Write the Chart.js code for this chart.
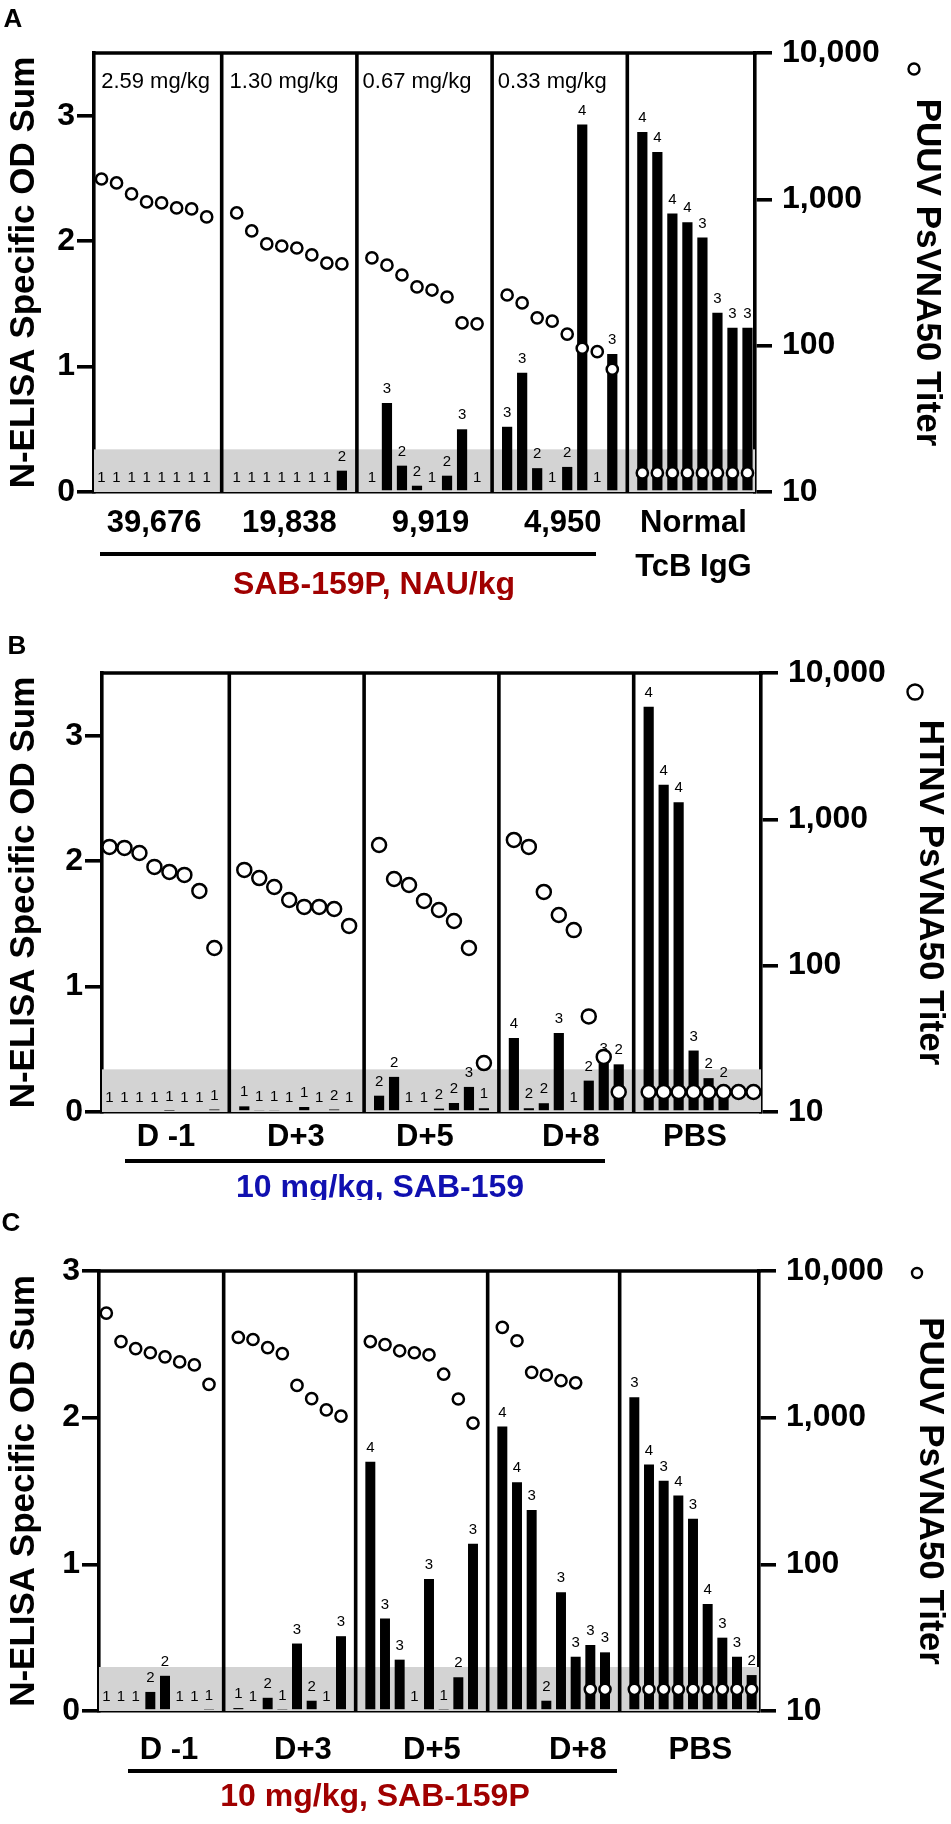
<!DOCTYPE html>
<html>
<head>
<meta charset="utf-8">
<title>N-ELISA OD sums and PsVNA50 titers</title>
<script src="https://cdn.jsdelivr.net/npm/chart.js@4.4.1/dist/chart.umd.min.js"></script>
<style>
  html, body { margin: 0; padding: 0; background: #fff; }
  #fig { width: 951px; height: 1824px; }
  canvas { display: block; }
</style>
</head>
<body>
<div id="fig">
  <canvas id="panelA" width="951" height="600"></canvas>
  <canvas id="panelB" width="951" height="600"></canvas>
  <canvas id="panelC" width="951" height="624"></canvas>
</div>
<script>
// Three panels: bars = N-ELISA specific OD sum (left axis), open circles = PsVNA50 titer (right, log)
// Each inner array is one group of animals; the number over a bar is the score.

// Panel A - SAB-159P dose titration, PUUV
const doseLabelsA = ['2.59 mg/kg', '1.30 mg/kg', '0.67 mg/kg', '0.33 mg/kg'];
const groupLabelsA = ['39,676', '19,838', '9,919', '4,950', ['Normal', 'TcB IgG']];
const odSumA = [
  [0, 0, 0, 0, 0, 0, 0, 0],
  [0, 0, 0, 0, 0, 0, 0, 0.17],
  [0, 0.71, 0.21, 0.05, 0, 0.13, 0.50, 0],
  [0.52, 0.95, 0.19, 0, 0.20, 2.93, 0, 1.10],
  [2.87, 2.71, 2.22, 2.15, 2.03, 1.43, 1.31, 1.31]
];
const scoreA = [
  [1, 1, 1, 1, 1, 1, 1, 1],
  [1, 1, 1, 1, 1, 1, 1, 2],
  [1, 3, 2, 2, 1, 2, 3, 1],
  [3, 3, 2, 1, 2, 4, 1, 3],
  [4, 4, 4, 4, 3, 3, 3, 3]
];
const titerA = [
  [1377, 1294, 1089, 960, 945, 874, 860, 758],
  [807, 608, 496, 480, 465, 417, 367, 362],
  [398, 355, 304, 252, 240, 215, 143, 141],
  [222, 196, 155, 147, 120, 96, 91, 69],
  [13.5, 13.5, 13.5, 13.5, 13.5, 13.5, 13.5, 13.5]
];

// Panel B - 10 mg/kg SAB-159, HTNV
const groupLabelsB = ['D -1', 'D+3', 'D+5', 'D+8', 'PBS'];
const odSumB = [
  [0, 0, 0, 0, 0.01, 0, 0, 0.02],
  [0.045, 0.013, 0.013, 0, 0.04, 0, 0.02, 0],
  [0.13, 0.28, 0, 0, 0.027, 0.072, 0.20, 0.03],
  [0.59, 0.03, 0.07, 0.63, 0, 0.25, 0.39, 0.38],
  [3.23, 2.61, 2.47, 0.49, 0.27, 0.20, null, null]
];
const scoreB = [
  [1, 1, 1, 1, 1, 1, 1, 1],
  [1, 1, 1, 1, 1, 1, 2, 1],
  [2, 2, 1, 1, 2, 2, 3, 1],
  [4, 2, 2, 3, 1, 2, 3, 2],
  [4, 4, 4, 3, 2, 2, null, null]
];
const titerB = [
  [648, 638, 589, 473, 437, 417, 324, 132],
  [451, 397, 345, 281, 252, 252, 244, 187],
  [668, 391, 356, 277, 240, 202, 132, 21.6],
  [723, 648, 319, 222, 175, 45, 23.8, 13.7],
  [13.7, 13.7, 13.7, 13.7, 13.7, 13.7, 13.7, 13.7]
];

// Panel C - 10 mg/kg SAB-159P, PUUV
const groupLabelsC = ['D -1', 'D+3', 'D+5', 'D+8', 'PBS'];
const odSumC = [
  [0, 0, 0, 0.13, 0.24, 0, 0, 0.01],
  [0.02, 0, 0.09, 0.01, 0.46, 0.07, 0, 0.51],
  [1.70, 0.63, 0.35, 0, 0.90, 0.01, 0.23, 1.14],
  [1.94, 1.56, 1.37, 0.07, 0.81, 0.37, 0.45, 0.40],
  [2.14, 1.68, 1.57, 1.47, 1.31, 0.73, 0.50, 0.37, 0.245]
];
const scoreC = [
  [1, 1, 1, 2, 2, 1, 1, 1],
  [1, 1, 2, 1, 3, 2, 1, 3],
  [4, 3, 3, 1, 3, 1, 2, 3],
  [4, 4, 3, 2, 3, 3, 3, 3],
  [3, 4, 3, 4, 3, 4, 3, 3, 2]
];
const titerC = [
  [5164, 3302, 2953, 2770, 2598, 2400, 2288, 1687],
  [3524, 3412, 3001, 2730, 1660, 1347, 1129, 1026],
  [3304, 3148, 2858, 2771, 2684, 1978, 1340, 919],
  [4130, 3344, 2037, 1950, 1786, 1729, 14.06, 14.06],
  [14.06, 14.06, 14.06, 14.06, 14.06, 14.06, 14.06, 14.06, 14.06]
];

const odTicksAB = [0, 1, 2, 3];
const titerTicks = [10, 100, 1000, 10000];

const FONT = '"Liberation Sans", Arial, Helvetica, sans-serif';
Chart.defaults.font.family = FONT;
Chart.defaults.color = '#000';

// groups -> one flat list of slots, with an empty slot between groups for the divider line
function flatten(groups) {
  const out = [];
  groups.forEach((g, gi) => {
    if (gi > 0) out.push(null);
    g.forEach(v => out.push(v));
  });
  return out;
}

function gapSlots(groups) {
  const gaps = [];
  let n = 0;
  groups.forEach((g, gi) => {
    if (gi > 0) { gaps.push(n); n++; }
    n += g.length;
  });
  return gaps;
}

function makePanel(id, p) {
  const canvas = document.getElementById(id);
  const W = canvas.width, H = canvas.height;
  const bars = flatten(p.od);
  const scores = flatten(p.score);
  const titers = flatten(p.titer);
  const gaps = gapSlots(p.od);
  const labels = bars.map((_, i) => String(i));

  const decor = {
    id: 'decor',
    beforeDatasetsDraw(chart) {
      const {ctx, chartArea: a, scales} = chart;
      const yb = scales.y.getPixelForValue(p.cutoff);
      ctx.save();
      ctx.fillStyle = '#d3d3d3';
      ctx.fillRect(a.left, yb, a.right - a.left, a.bottom - yb);
      ctx.strokeStyle = '#000';
      ctx.lineWidth = 3.6;
      gaps.forEach(i => {
        const x = scales.x.getPixelForValue(i);
        ctx.beginPath();
        ctx.moveTo(x, a.top);
        ctx.lineTo(x, a.bottom);
        ctx.stroke();
      });
      ctx.restore();
    },
    afterDatasetDraw(chart, args) {
      if (args.index !== 0) return;
      const ctx = chart.ctx;
      const meta = chart.getDatasetMeta(0);
      ctx.save();
      ctx.font = '15px ' + FONT;
      ctx.fillStyle = '#000';
      ctx.textAlign = 'center';
      ctx.textBaseline = 'middle';
      meta.data.forEach((bar, i) => {
        if (scores[i] == null || bars[i] == null) return;
        ctx.fillText(String(scores[i]), bar.x, bar.y - 14);
      });
      ctx.restore();
    },
    afterDraw(chart) {
      const {ctx, chartArea: a, scales} = chart;
      ctx.save();
      // top frame line
      ctx.strokeStyle = '#000';
      ctx.lineWidth = 3.6;
      ctx.beginPath();
      ctx.moveTo(a.left - 2, a.top);
      ctx.lineTo(a.right + 2, a.top);
      ctx.stroke();

      ctx.fillStyle = '#000';
      ctx.textAlign = 'center';
      ctx.textBaseline = 'middle';

      // panel letter
      ctx.font = 'bold 26px ' + FONT;
      ctx.fillText(p.letter, p.letterX, p.letterY);

      // dose labels inside the boxes (panel A)
      if (p.doses) {
        ctx.font = '22px ' + FONT;
        p.doses.forEach((t, i) => {
          ctx.fillText(t, scales.x.getPixelForValue(p.doseSlots[i]), p.doseY);
        });
      }

      // group labels under the axis
      ctx.font = 'bold 31px ' + FONT;
      p.groups.forEach((t, i) => {
        const x = scales.x.getPixelForValue(p.groupSlots[i]);
        const lines = Array.isArray(t) ? t : [t];
        lines.forEach((ln, k) => ctx.fillText(ln, x, p.groupY + k * 44));
      });

      // bracket line and treatment caption
      ctx.lineWidth = 3.8;
      ctx.beginPath();
      ctx.moveTo(p.underline[0], p.underline[2]);
      ctx.lineTo(p.underline[1], p.underline[2]);
      ctx.stroke();
      ctx.fillStyle = p.captionColor;
      ctx.font = 'bold 32px ' + FONT;
      ctx.fillText(p.caption, p.captionX, p.captionY);

      // open circle key in front of the right axis title
      ctx.beginPath();
      ctx.arc(p.marker[0], p.marker[1], p.marker[2], 0, Math.PI * 2);
      ctx.fillStyle = '#fff';
      ctx.fill();
      ctx.lineWidth = 2.4;
      ctx.strokeStyle = '#000';
      ctx.stroke();
      ctx.restore();
    }
  };

  const tickGrid = {
    display: true, drawOnChartArea: false, drawTicks: true,
    tickLength: 17, lineWidth: 3.6, color: '#000'
  };
  const axisBorder = {display: true, color: '#000', width: 3.6};

  return new Chart(canvas, {
    type: 'bar',
    data: {
      labels: labels,
      datasets: [
        {
          type: 'bar', data: bars, yAxisID: 'y', order: 2,
          backgroundColor: '#000', borderWidth: 0,
          barPercentage: 0.68, categoryPercentage: 1
        },
        {
          type: 'line', data: titers, yAxisID: 'y2', order: 1,
          showLine: false, pointRadius: p.dotRadius, pointBorderWidth: 2.5,
          pointBackgroundColor: '#fff', pointBorderColor: '#000'
        }
      ]
    },
    options: {
      responsive: false,
      animation: false,
      layout: {padding: {top: p.plotTop, left: 0, right: 0, bottom: 0}},
      plugins: {legend: {display: false}, tooltip: {enabled: false}},
      scales: {
        x: {
          type: 'category', offset: true,
          ticks: {display: false},
          grid: {display: false},
          border: axisBorder,
          afterFit(s) { s.height = H - p.plotBottom; }
        },
        y: {
          position: 'left', min: 0, max: p.odMax,
          afterBuildTicks(s) { s.ticks = odTicksAB.map(v => ({value: v})); },
          ticks: {color: '#000', font: {size: 32, weight: 'bold'}, padding: 2},
          grid: tickGrid,
          border: axisBorder,
          title: {
            display: true, text: 'N-ELISA Specific OD Sum', color: '#000',
            font: {size: 35, weight: 'bold'}, padding: {top: p.leftTitlePad, bottom: 0}
          },
          afterFit(s) { s.width = p.plotLeft; }
        },
        y2: {
          type: 'logarithmic', position: 'right', min: 10, max: 10000,
          afterBuildTicks(s) { s.ticks = titerTicks.map(v => ({value: v})); },
          ticks: {
            color: '#000', font: {size: 32, weight: 'bold'}, padding: 10,
            callback: v => Number(v).toLocaleString('en-US')
          },
          grid: tickGrid,
          border: axisBorder,
          title: {
            display: true, text: p.titerTitle, color: '#000',
            font: {size: 35, weight: 'bold'}, padding: {top: p.rightTitlePad, bottom: 0}
          },
          afterFit(s) { s.width = W - p.plotRight; }
        }
      }
    },
    plugins: [decor]
  });
}

makePanel('panelA', {
  od: odSumA, score: scoreA, titer: titerA,
  odMax: 3.5, cutoff: 0.34, dotRadius: 5.6,
  plotLeft: 94, plotRight: 755, plotTop: 53, plotBottom: 492,
  leftTitlePad: 3, rightTitlePad: 3,
  titerTitle: 'PUUV PsVNA50 Titer',
  letter: 'A', letterX: 13, letterY: 20,
  doses: doseLabelsA, doseSlots: [3.6, 12.15, 21.0, 30.0], doseY: 82,
  groups: groupLabelsA, groupSlots: [3.5, 12.5, 21.9, 30.7, 39.4], groupY: 523,
  underline: [100, 596, 554],
  caption: 'SAB-159P, NAU/kg', captionColor: '#a00000', captionX: 374, captionY: 585,
  marker: [914, 69, 5.5]
});

makePanel('panelB', {
  od: odSumB, score: scoreB, titer: titerB,
  odMax: 3.5, cutoff: 0.34, dotRadius: 7,
  plotLeft: 102, plotRight: 761, plotTop: 73, plotBottom: 512,
  leftTitlePad: 3, rightTitlePad: 0,
  titerTitle: 'HTNV PsVNA50 Titer',
  letter: 'B', letterX: 17, letterY: 47,
  groups: groupLabelsB, groupSlots: [3.77, 12.45, 21.06, 30.81, 39.09], groupY: 537,
  underline: [125, 605, 561],
  caption: '10 mg/kg, SAB-159', captionColor: '#1010b0', captionX: 380, captionY: 588,
  marker: [915, 92, 7.5]
});

makePanel('panelC', {
  od: odSumC, score: scoreC, titer: titerC,
  odMax: 3, cutoff: 0.30, dotRadius: 5.6,
  plotLeft: 99, plotRight: 759, plotTop: 71, plotBottom: 511,
  leftTitlePad: 3, rightTitlePad: 0,
  titerTitle: 'PUUV PsVNA50 Titer',
  letter: 'C', letterX: 11, letterY: 24,
  groups: groupLabelsC, groupSlots: [4.27, 13.4, 22.2, 32.15, 40.5], groupY: 550,
  underline: [128, 617, 571],
  caption: '10 mg/kg, SAB-159P', captionColor: '#a00000', captionX: 375, captionY: 597,
  marker: [917, 73, 5]
});
</script>
</body>
</html>
